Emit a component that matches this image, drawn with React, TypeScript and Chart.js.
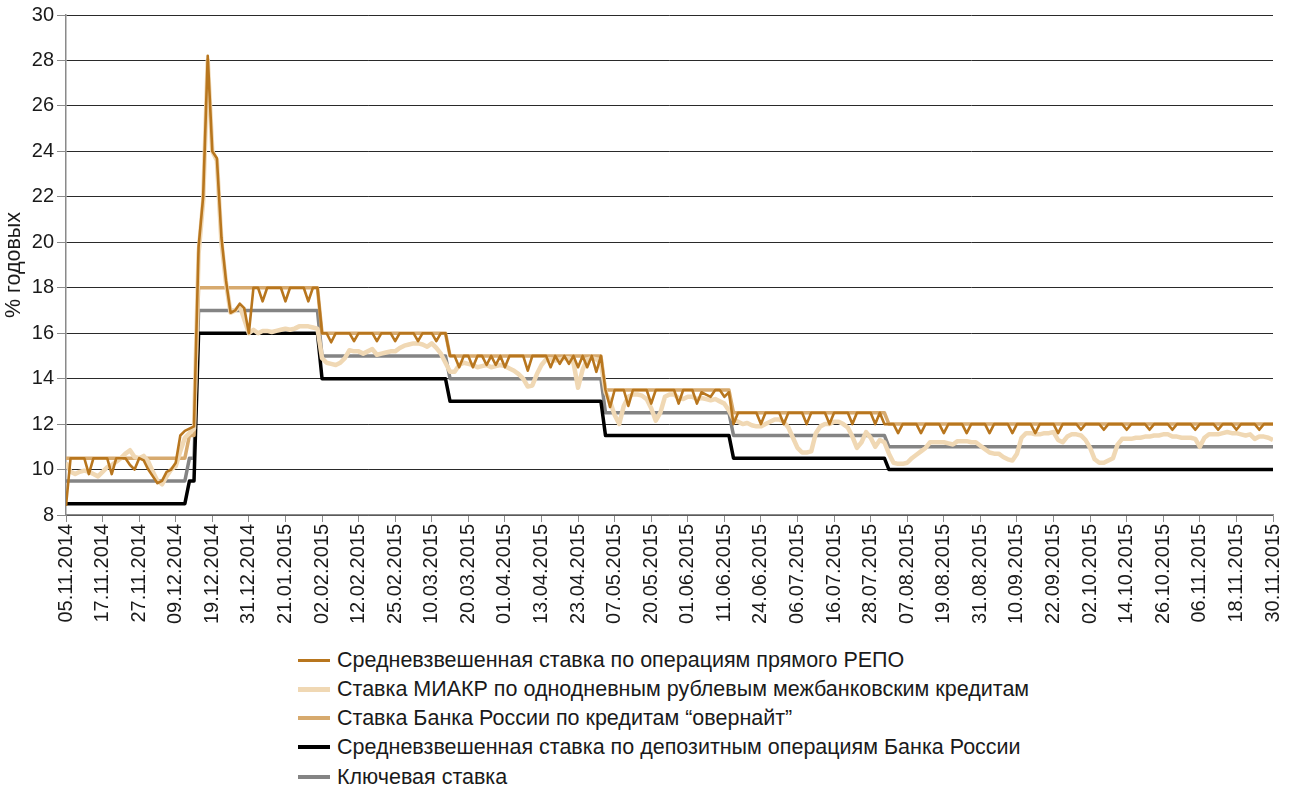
import React, { useEffect, useRef } from "react";
import { Chart, registerables } from "chart.js";

Chart.register(...registerables);

// ---- Tick labels (every 8th business day) ----
const tickLabels = [
  "05.11.2014", "17.11.2014", "27.11.2014", "09.12.2014", "19.12.2014", "31.12.2014",
  "21.01.2015", "02.02.2015", "12.02.2015", "25.02.2015", "10.03.2015", "20.03.2015",
  "01.04.2015", "13.04.2015", "23.04.2015", "07.05.2015", "20.05.2015", "01.06.2015",
  "11.06.2015", "24.06.2015", "06.07.2015", "16.07.2015", "28.07.2015", "07.08.2015",
  "19.08.2015", "31.08.2015", "10.09.2015", "22.09.2015", "02.10.2015", "14.10.2015",
  "26.10.2015", "06.11.2015", "18.11.2015", "30.11.2015",
];

const seriesNames = [
  "Средневзвешенная ставка по операциям прямого РЕПО",
  "Ставка МИАКР по однодневным рублевым межбанковским кредитам",
  "Ставка Банка России по кредитам “овернайт”",
  "Средневзвешенная ставка по депозитным операциям Банка России",
  "Ключевая ставка",
];

// ---- Daily series (business days, index 0 = 05.11.2014) ----
const repoRate = [
  8.4, 10.5, 10.5, 10.5, 10.5, 9.8, 10.5, 10.5, 10.5, 10.5,
  9.8, 10.5, 10.5, 10.5, 10.2, 10.0, 10.5, 10.4, 10.0, 9.7,
  9.4, 9.5, 9.9, 10.0, 10.3, 11.5, 11.7, 11.8, 11.9, 19.8,
  22.0, 28.2, 24.0, 23.7, 20.2, 18.3, 16.9, 17.0, 17.3, 17.1,
  16.0, 18, 18, 17.4, 18, 18, 18, 18, 17.4, 18,
  18, 18, 18, 17.4, 18, 18, 16, 16, 15.6, 16,
  16, 16, 16, 15.65, 16, 16, 16, 16, 15.65, 16,
  16, 16, 15.65, 16, 16, 16, 16, 15.65, 16, 16,
  16, 15.65, 16, 16, 15, 15, 14.5, 15, 15, 14.5,
  15, 15, 14.6, 15, 14.6, 15, 14.5, 15, 15, 15,
  15, 14.35, 15, 15, 15, 15, 14.5, 15, 14.65, 15,
  14.65, 15, 14.5, 15, 14.5, 15, 14.3, 15, 13.5, 12.75,
  13.5, 13.5, 13.5, 12.8, 13.5, 13.5, 13.5, 13.5, 12.9, 13.5,
  13.5, 13.5, 13.5, 13.5, 12.9, 13.5, 13.5, 13.5, 12.9, 13.4,
  13.3, 13.2, 13.5, 13.5, 13.2, 13.4, 12.0, 12.5, 12.5, 12.5,
  12.5, 12.5, 12.0, 12.5, 12.5, 12.5, 12.5, 12.0, 12.5, 12.5,
  12.5, 12.5, 12.0, 12.5, 12.5, 12.5, 12.5, 12.0, 12.5, 12.5,
  12.5, 12.5, 12.0, 12.5, 12.5, 12.5, 12.5, 12.0, 12.5, 12.0,
  12, 12, 11.6, 12, 12, 12, 12, 11.6, 12, 12,
  12, 12, 11.6, 12, 12, 12, 12, 11.6, 12, 12,
  12, 12, 11.6, 12, 12, 12, 12, 11.6, 12, 12,
  12, 12, 11.6, 12, 12, 12, 12, 11.6, 12, 12,
  12, 12, 11.75, 12, 12, 12, 12, 11.75, 12, 12,
  12, 12, 11.75, 12, 12, 12, 12, 11.75, 12, 12,
  12, 12, 11.75, 12, 12, 12, 12, 11.75, 12, 12,
  12, 12, 11.75, 12, 12, 12, 11.75, 12, 12, 12,
  12, 11.75, 12, 12, 12,
];

const miacrRate = [
  10.3, 9.9, 9.8, 9.9, 9.95, 9.9, 9.8, 9.7, 9.9, 10.1,
  10.2, 10.35, 10.5, 10.7, 10.85, 10.55, 10.5, 10.6, 10.35, 9.9,
  9.5, 9.35, 9.7, 10.0, 10.15, 10.8, 11.4, 11.6, 11.8, 19.5,
  21.8, 28.0, 24.0, 23.6, 20.0, 18.2, 16.9, 17.0, 17.2, 16.6,
  16.0, 16.15, 16.0, 16.1, 16.1, 16.05, 16.1, 16.15, 16.2, 16.15,
  16.2, 16.3, 16.3, 16.3, 16.25, 16.2, 14.9, 14.7, 14.65, 14.6,
  14.7, 14.9, 15.25, 15.2, 15.2, 15.1, 15.2, 15.3, 15.05, 15.1,
  15.15, 15.2, 15.2, 15.35, 15.45, 15.5, 15.55, 15.55, 15.5, 15.4,
  15.55, 15.35, 15.1, 14.7, 14.3, 14.3, 14.6, 14.7, 14.65, 14.6,
  14.5, 14.55, 14.6, 14.5, 14.55, 14.6, 14.55, 14.45, 14.35, 14.2,
  14.0, 13.65, 13.7, 14.2, 14.6, 14.85, 14.85, 14.8, 14.85, 14.9,
  14.9, 14.7, 13.6, 14.4, 14.85, 14.9, 14.85, 14.7, 13.4, 13.0,
  12.4, 12.0, 12.8, 13.2, 13.3, 13.3, 13.25, 13.1, 12.7, 12.15,
  12.5, 13.2, 13.3, 13.3, 13.15, 13.1, 13.2, 13.2, 13.1, 13.15,
  13.1, 13.05, 13.1, 13.0, 12.9, 12.6, 12.2, 12.1, 12.0, 12.05,
  11.95, 11.9, 11.9, 12.0, 12.1, 12.2, 12.2, 12.1, 11.85, 11.4,
  10.95, 10.75, 10.75, 10.8, 11.6, 11.9, 12.0, 12.0, 12.1, 12.1,
  12.0, 11.85, 11.45, 10.95, 11.2, 11.65, 11.4, 11.0, 11.3, 11.2,
  10.7, 10.3, 10.25, 10.25, 10.3, 10.5, 10.65, 10.8, 10.95, 11.2,
  11.2, 11.2, 11.2, 11.15, 11.1, 11.25, 11.25, 11.25, 11.2, 11.2,
  11.05, 10.9, 10.75, 10.7, 10.7, 10.55, 10.45, 10.4, 10.7, 11.4,
  11.6, 11.6, 11.55, 11.55, 11.6, 11.6, 11.65, 11.3, 11.2, 11.45,
  11.55, 11.55, 11.5, 11.3, 10.95, 10.45, 10.3, 10.3, 10.4, 10.5,
  11.1, 11.35, 11.35, 11.35, 11.4, 11.4, 11.45, 11.45, 11.5, 11.5,
  11.55, 11.55, 11.45, 11.45, 11.4, 11.4, 11.4, 11.35, 11.0, 11.4,
  11.55, 11.55, 11.55, 11.6, 11.65, 11.6, 11.6, 11.55, 11.5, 11.55,
  11.35, 11.45, 11.45, 11.4, 11.3,
];

// ---- Policy rates: values at the business days where they change ----
const policyDays = [0, 26, 27, 28, 29, 55, 56, 83, 84, 117, 118, 145, 146, 179, 180, 264];
const overnightRate = [10.5, 10.5, 11.5, 11.5, 18, 18, 16, 16, 15, 15, 13.5, 13.5, 12.5, 12.5, 12, 12];
const depositRate = [8.5, 8.5, 9.5, 9.5, 16, 16, 14, 14, 13, 13, 11.5, 11.5, 10.5, 10.5, 10, 10];
const keyRate = [9.5, 9.5, 10.5, 10.5, 17, 17, 15, 15, 14, 14, 12.5, 12.5, 11.5, 11.5, 11, 11];

const colors = ["#B8761E", "#F0D8B4", "#D7AA6E", "#000000", "#848484"];
const widths = [2.6, 4.5, 3.5, 3.5, 3.5];

const FONT = '"Liberation Sans", Arial, Helvetica, sans-serif';

export default function App() {
  const ref = useRef<HTMLCanvasElement>(null);

  useEffect(() => {
    const canvas = ref.current;
    if (!canvas) return;
    const daily = (ys: number[]) => ys.map((y, i) => ({ x: i, y }));
    const stepped = (ys: number[]) => policyDays.map((x, i) => ({ x, y: ys[i] }));
    const seriesData = [
      daily(repoRate),
      daily(miacrRate),
      stepped(overnightRate),
      stepped(depositRate),
      stepped(keyRate),
    ];
    const chart = new Chart(canvas, {
      type: "line",
      data: {
        datasets: seriesData.map((d, i) => ({
          label: seriesNames[i],
          data: d,
          borderColor: colors[i],
          backgroundColor: colors[i],
          borderWidth: widths[i],
          pointRadius: 0,
          tension: 0,
          fill: false,
          borderJoinStyle: "round" as const,
        })),
      },
      options: {
        animation: false,
        responsive: false,
        devicePixelRatio: 1,
        layout: { padding: { top: 15, right: 16, left: 0, bottom: 0 } },
        plugins: { legend: { display: false }, tooltip: { enabled: false } },
        scales: {
          x: {
            type: "linear",
            min: 0,
            max: 264,
            afterFit: (s: any) => {
              s.height = 125;
              s.paddingRight = 0;
              s.paddingLeft = 0;
            },
            border: { color: "#8a8a8a", width: 1.5 },
            grid: { drawOnChartArea: false, drawTicks: true, tickLength: 7, color: "#8a8a8a" },
            ticks: {
              stepSize: 8,
              autoSkip: false,
              maxRotation: 90,
              minRotation: 90,
              padding: 2,
              color: "#1a1a1a",
              font: { size: 20, family: FONT },
              callback: (v: any) => {
                const k = Number(v) / 8;
                return Number.isInteger(k) && tickLabels[k] ? tickLabels[k] : "";
              },
            },
          },
          y: {
            min: 8,
            max: 30,
            afterFit: (s: any) => {
              s.width = 66;
            },
            border: { color: "#8a8a8a", width: 1.5 },
            grid: { color: "#2a2a2a", lineWidth: 1, tickLength: 9, tickColor: "#8a8a8a" },
            ticks: {
              stepSize: 2,
              padding: 3,
              color: "#1a1a1a",
              font: { size: 20, family: FONT },
            },
            title: {
              display: true,
              text: "% годовых",
              color: "#1a1a1a",
              font: { size: 21.5, family: FONT },
              padding: { top: 1, bottom: 0 },
            },
          },
        },
      },
    });
    return () => chart.destroy();
  }, []);

  const legendTops = [660, 689, 718, 747, 777];

  return (
    <div
      style={{
        position: "fixed",
        left: 0,
        top: 0,
        width: 1289,
        height: 789,
        background: "#ffffff",
        fontFamily: FONT,
      }}
    >
      <canvas ref={ref} width={1289} height={640} style={{ display: "block" }} />
      {seriesNames.map((name, i) => (
        <div
          key={name}
          style={{
            position: "absolute",
            left: 298,
            top: legendTops[i] - 12,
            height: 24,
            display: "flex",
            alignItems: "center",
            whiteSpace: "nowrap",
          }}
        >
          <span
            style={{
              display: "inline-block",
              width: 32,
              height: i === 0 ? 3 : i === 1 ? 5 : 4,
              background: colors[i],
              marginRight: 7,
            }}
          />
          <span style={{ fontSize: 21.5, color: "#1a1a1a", lineHeight: "24px" }}>{name}</span>
        </div>
      ))}
    </div>
  );
}
